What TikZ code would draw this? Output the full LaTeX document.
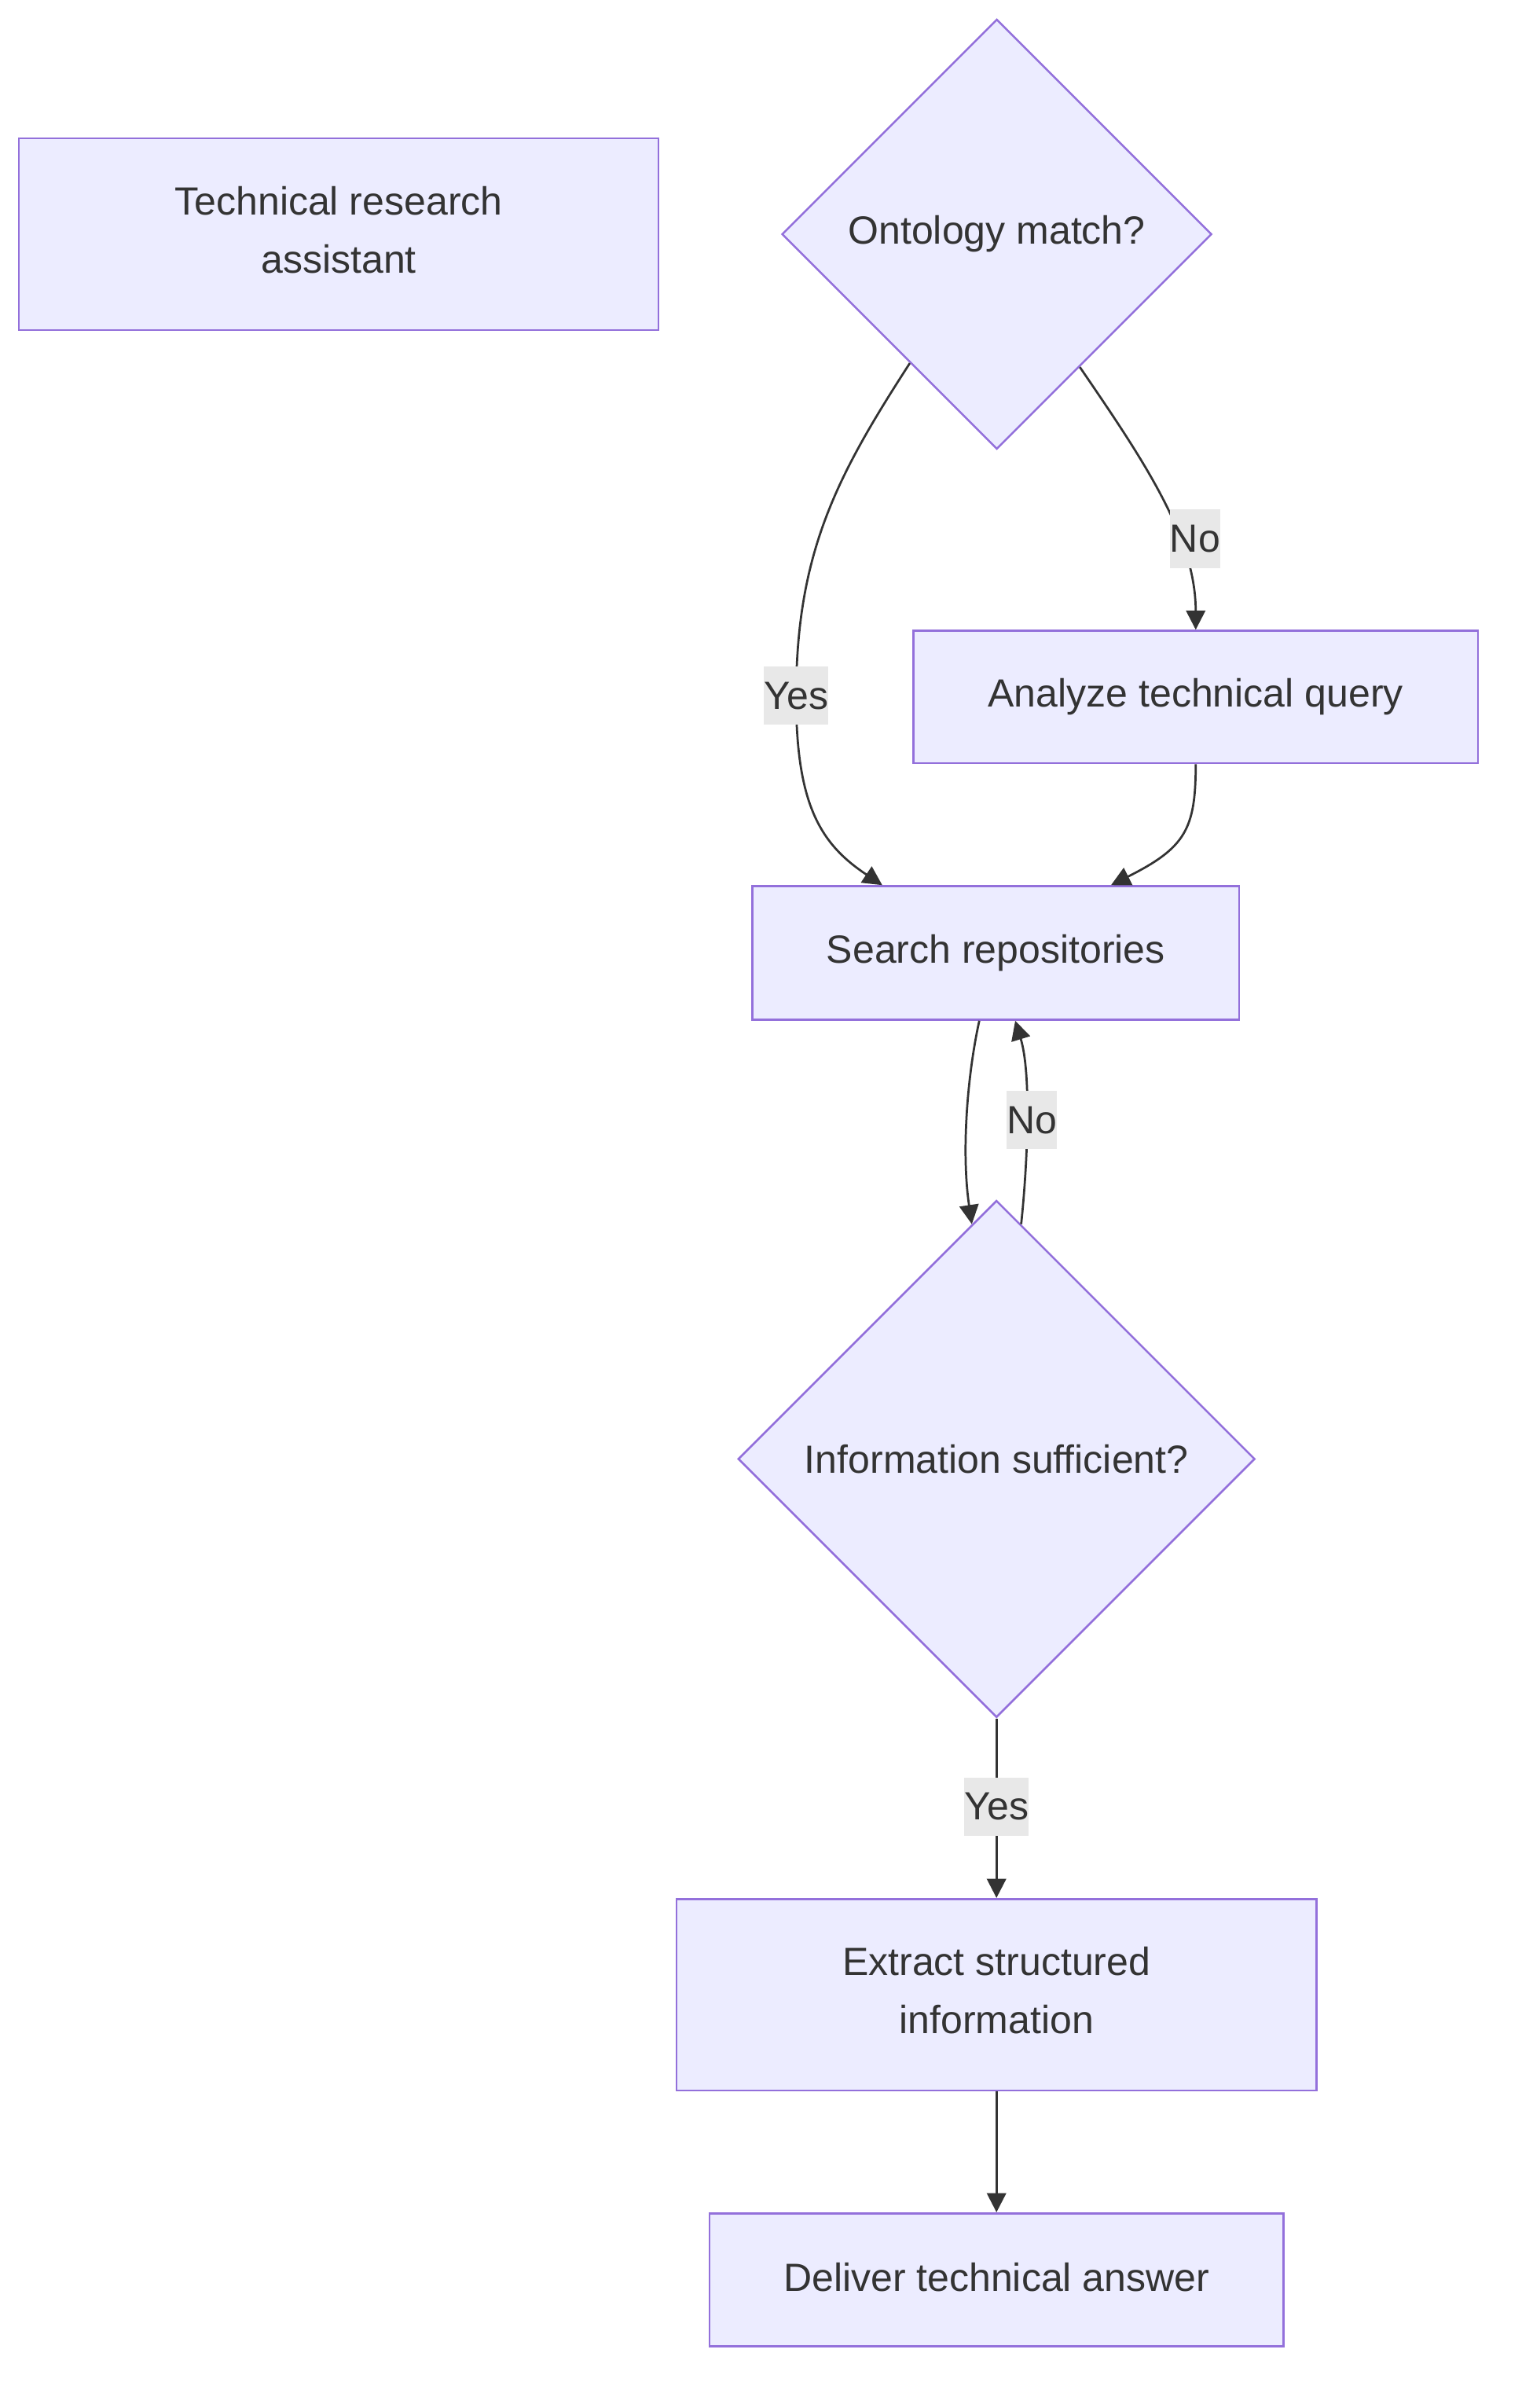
\documentclass[tikz,border=0pt]{standalone}
\usepackage{fontspec}
\setmainfont{Liberation Sans}
\usetikzlibrary{shapes.geometric,arrows.meta}
\definecolor{nfill}{HTML}{ECECFF}
\definecolor{nline}{HTML}{9370DB}
\definecolor{ink}{HTML}{333333}
\definecolor{lblbg}{HTML}{E8E8E8}
\newcommand\mydepth[1]{\rule[-#1pt]{0pt}{0pt}}
\begin{document}
\begin{tikzpicture}[x=1pt,y=-1pt,
  box/.style={draw=nline, fill=nfill, line width=1.3pt, text=ink, inner sep=0pt, align=center, font=\fontsize{25.6}{38}\selectfont},
  dec/.style={box, shape=diamond, aspect=1},
  lbl/.style={fill=lblbg, text=ink, inner xsep=0pt, inner ysep=0pt, minimum height=38pt, font=\fontsize{25.6}{38}\selectfont},
  edge/.style={draw=ink, line width=1.4pt, -{Triangle[length=12.5pt,width=12.5pt]}}]
\useasboundingbox (0,0) rectangle (991,1568);
% nodes
\node[box, minimum width=416.7pt, minimum height=125pt] (tra) at (220.6,152.5) {Technical research\\assistant\mydepth{6}};
\node[dec, minimum width=280pt, minimum height=280pt] (ont) at (649.2,152.5) {Ontology match?};
\node[box, minimum width=367.5pt, minimum height=86.3pt] (anl) at (778.75,453.85) {Analyze technical query};
\node[box, minimum width=317pt, minimum height=87pt] (srch) at (648.6,620.5) {Search repositories};
\node[dec, minimum width=336.6pt, minimum height=336.6pt] (info) at (649,950) {Information sufficient?};
\node[box, minimum width=416.7pt, minimum height=124.8pt] (extr) at (649,1298.9) {Extract structured\\information\mydepth{6}};
\node[box, minimum width=373.9pt, minimum height=86.6pt] (dlv) at (649,1484.5) {Deliver technical answer\mydepth{4}};
% edges
\draw[edge] (ont.236.6) .. controls (545,310) and (518.5,360) .. (518.5,454)
  .. controls (518.5,525) and (535,550) .. ([xshift=-74pt]srch.north);
\draw[edge] (ont.302.8) .. controls (745,300) and (778.75,350) .. (anl.north);
\draw[edge] (anl.south) .. controls (778.75,540) and (772,552) .. ([xshift=75pt]srch.north);
\draw[edge] ([xshift=-10.8pt]srch.south) .. controls (630,700) and (626,750) .. (info.96.6);
\draw[edge] (info.84.1) .. controls (669,760) and (672,700) .. ([xshift=12.6pt]srch.south);
\draw[edge] (info.south) -- (extr.north);
\draw[edge] (extr.south) -- (dlv.north);
% labels
\node[lbl] (l1) at (778.3,350.8) {No};
\node[lbl] (l2) at (518.5,453) {Yes};
\node[lbl] (l3) at (672,729.3) {No};
\node[lbl] (l4) at (649,1176.5) {Yes};
\end{tikzpicture}
\end{document}
